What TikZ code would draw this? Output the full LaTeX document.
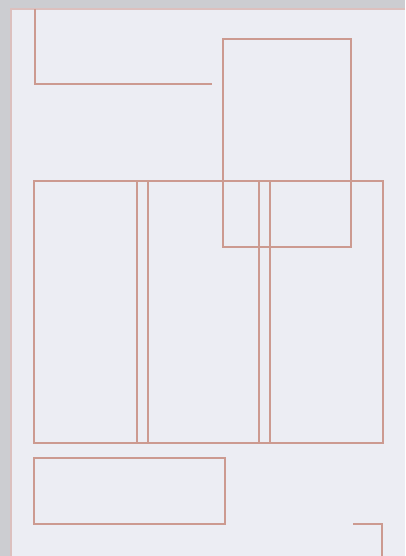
\documentclass[tikz,border=0pt]{standalone}
\usepackage{tikz}
\usetikzlibrary{
  positioning,
  backgrounds
}
\definecolor{DeskGray}{RGB}{204,205,209}
\definecolor{PaperWhite}{RGB}{236,237,243}
\definecolor{GridRed}{RGB}{204,154,144}
\definecolor{EdgeRed}{RGB}{220,192,190}
\tikzset{
  paper/.style={fill=PaperWhite},
  paperedge/.style={draw=EdgeRed,line width=1.1pt},
  gridline/.style={draw=GridRed,line width=1.2pt},
  gridbox/.style={draw=GridRed,line width=1.2pt}
}

\begin{document}
\begin{tikzpicture}[x=1pt,y=-1pt]
\fill[DeskGray] (0,0) rectangle (405,556);
\useasboundingbox (0,0) rectangle (405,556);
\fill[paper] (11,9) rectangle (405,556);
\draw[paperedge] (405,9) -- (11,9) -- (11,556);
% header bracket
\coordinate (headtop) at (35,9);
\coordinate (headcorner) at (35,84);
\coordinate (headend) at (212,84);
\draw[gridline] (headtop) -- (headcorner) -- (headend);
% picture frame
\draw[gridbox] (223,39) rectangle (351,247);
% three columns
\draw[gridbox] (34,181) rectangle (383,443);
\foreach \xg in {137,148,259,270}
  \draw[gridline] (\xg,181) -- (\xg,443);
% caption box
\draw[gridbox] (34,458) rectangle (225,524);
% folio mark
\coordinate (foliostart) at (353,524);
\coordinate (foliocorner) at (382,524);
\coordinate (folioend) at (382,556);
\draw[gridline] (foliostart) -- (foliocorner) -- (folioend);
\end{tikzpicture}
\end{document}
